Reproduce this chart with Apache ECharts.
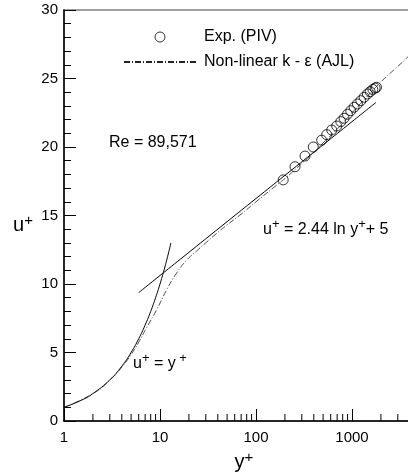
<!DOCTYPE html>
<html>
<head>
<meta charset="utf-8">
<script src="https://cdn.jsdelivr.net/npm/echarts@6/dist/echarts.min.js"></script>
<style>
  html, body { margin: 0; padding: 0; background: #fff; }
  #chart { width: 408px; height: 475px; }
</style>
</head>
<body>
<div id="chart"></div>
<script>
"use strict";

// datos experimentales (PIV): y+ y u+
const expY = [192, 255, 324, 395, 483, 545, 615, 693, 764, 827, 896, 971, 1052, 1138, 1235, 1337, 1448, 1545, 1648, 1742, 1800];
const expU = [17.6, 18.56, 19.34, 20.0, 20.5, 20.9, 21.24, 21.53, 21.85, 22.1, 22.39, 22.65, 22.9, 23.14, 23.38, 23.63, 23.87, 24.04, 24.2, 24.3, 24.36];

// modelo no lineal k-epsilon (AJL)
const ajlY = [1, 2, 3, 4, 5, 6, 7.2, 9.2, 11.7, 14.9, 19, 24.7, 30.7, 39, 49.7, 70, 100, 150, 200, 300, 400, 500, 700, 1000, 1400, 2000, 2800, 3600, 4200];
const ajlU = [1.0, 2.0, 2.98, 3.93, 4.85, 5.75, 6.77, 8.1, 9.56, 10.8, 11.75, 12.48, 13.07, 13.7, 14.3, 15.1, 16.0, 17.0, 17.7, 18.8, 19.6, 20.3, 21.3, 22.5, 23.6, 24.75, 25.7, 26.4, 26.9];

// ley logaritmica u+ = 2.44 ln y+ + 5
const logY = [6, 10, 20, 50, 100, 200, 500, 1000, 1780];
const logU = [9.37, 10.62, 12.31, 14.55, 16.24, 17.93, 20.16, 21.85, 23.26];

// subcapa viscosa u+ = y+
const viscY = [1, 1.5, 2, 3, 4, 5, 6, 7, 8, 9, 10, 11, 12, 13];
const viscU = [1, 1.5, 2, 3, 4, 5, 6, 7, 8, 9, 10, 11, 12, 13];

// marcas menores del eje x (logaritmico)
const minorTicksX = [2, 3, 4, 5, 6, 7, 8, 9, 20, 30, 40, 50, 60, 70, 80, 90,
                     200, 300, 400, 500, 600, 700, 800, 900, 2000, 3000, 4000, 5000, 6000, 7000, 8000, 9000];

const FONT = 'Liberation Sans';
const pairs = (xs, ys) => xs.map((x, i) => [x, ys[i]]);

const myChart = echarts.init(document.getElementById('chart'));

const supRich = {
    m: { fontFamily: FONT, fontSize: 16, color: '#000' },
    s: { fontFamily: FONT, fontSize: 13, color: '#000', verticalAlign: 'top', padding: [0, 0, 10, 0] }
};
const nameRich = {
    m: { fontFamily: FONT, fontSize: 20, color: '#000' },
    s: { fontFamily: FONT, fontSize: 15, color: '#000', verticalAlign: 'top', padding: [0, 0, 10, 0] }
};

const option = {
    animation: false,
    backgroundColor: '#fff',
    grid: {
        left: 64, top: 10, bottom: 54, right: -40,
        outerBoundsMode: 'none', containLabel: false,
        show: true, borderColor: '#808080', borderWidth: 1.5
    },
    legend: {
        orient: 'vertical',
        left: 118, top: 24,
        itemWidth: 72, itemHeight: 10, itemGap: 9,
        data: [
            { name: 'Exp. (PIV)', itemStyle: { color: 'rgba(255,255,255,0)', borderColor: '#000', borderWidth: 1 } },
            { name: 'Non-linear k - \u03b5 (AJL)', itemStyle: { opacity: 0 } }
        ],
        textStyle: { fontFamily: FONT, fontSize: 16, color: '#000', padding: [0, 0, 0, 3] }
    },
    xAxis: {
        type: 'log', logBase: 10, min: 1, max: 10000,
        name: '{m|y}{s|+}',
        nameLocation: 'middle', nameGap: 28,
        nameTextStyle: { padding: [0, 24, 0, 0], rich: nameRich },
        axisLine: { lineStyle: { color: '#000', width: 1.5 } },
        axisTick: { inside: true, length: 12, lineStyle: { color: '#000' } },
        splitLine: { show: false },
        axisLabel: {
            fontFamily: FONT, fontSize: 15, color: '#000', margin: 9,
            formatter: v => String(v)
        }
    },
    yAxis: {
        type: 'value', min: 0, max: 30, interval: 5,
        name: '{m|u}{s|+}',
        nameLocation: 'middle', nameGap: 31, nameRotate: 0,
        nameTextStyle: { padding: [20, 0, 0, 0], rich: nameRich },
        axisLine: { show: true, lineStyle: { color: '#000', width: 1.5 } },
        axisTick: { show: true, inside: true, length: 12, lineStyle: { color: '#000' } },
        minorTick: { show: true, splitNumber: 5, length: 7, lineStyle: { color: '#000' } },
        splitLine: { show: false },
        axisLabel: { fontFamily: FONT, fontSize: 15, color: '#000', margin: 6 }
    },
    graphic: [
        { type: 'text', left: 109, top: 135, style: { text: 'Re = 89,571', font: '16px ' + FONT, fill: '#000' } },
        { type: 'text', left: 263, top: 218, style: { text: '{m|u}{s|+}{m| = 2.44 ln y}{s|+}{m|+ 5}', rich: supRich } },
        { type: 'text', left: 133, top: 352, style: { text: '{m|u}{s|+}{m| = y}{s| +}', rich: supRich } }
    ],
    series: [
        {
            name: 'u+ = y+', type: 'line', data: pairs(viscY, viscU),
            showSymbol: false, symbol: 'none', smooth: true,
            lineStyle: { color: '#000', width: 1 }
        },
        {
            name: 'log law', type: 'line', data: pairs(logY, logU),
            showSymbol: false, symbol: 'none', smooth: true,
            lineStyle: { color: '#000', width: 1 }
        },
        {
            name: 'Non-linear k - \u03b5 (AJL)', type: 'line', data: pairs(ajlY, ajlU),
            showSymbol: false, symbol: 'none', smooth: true, color: '#222',
            lineStyle: { color: '#222', width: 0.8, type: [6, 2, 1, 2] }
        },
        {
            name: 'Exp. (PIV)', type: 'scatter', data: pairs(expY, expU),
            symbol: 'circle', symbolSize: 10,
            itemStyle: { color: 'rgba(255,255,255,0)', borderColor: '#000', borderWidth: 1 }
        },
        {
            // marcas menores del eje x
            name: 'minor', type: 'custom', silent: true,
            data: minorTicksX.map(v => [v, 0]),
            renderItem: (params, api) => {
                const p = api.coord([api.value(0), 0]);
                return {
                    type: 'line',
                    shape: { x1: p[0], y1: p[1], x2: p[0], y2: p[1] - 7 },
                    style: { stroke: '#000', lineWidth: 1 }
                };
            },
            clip: false, z: 5
        }
    ]
};

myChart.setOption(option);
</script>
</body>
</html>
